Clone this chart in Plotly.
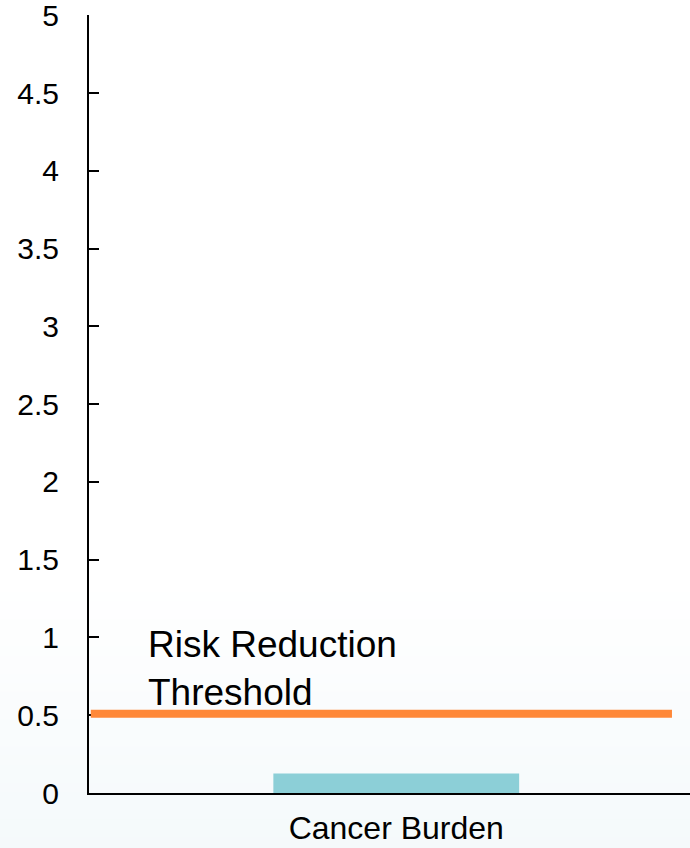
import plotly.graph_objects as go

categories = ["Cancer Burden"]
values = [0.125]
threshold_value = 0.51
threshold_label = "Risk Reduction<br>Threshold"
y_ticks = [0, 0.5, 1, 1.5, 2, 2.5, 3, 3.5, 4, 4.5, 5]
y_tick_text = ["0", "0.5", "1", "1.5", "2", "2.5", "3", "3.5", "4", "4.5", "5"]

fig = go.Figure()
fig.add_trace(go.Bar(x=categories, y=values, width=0.4,
                     marker=dict(color="#8ccfd7", line=dict(width=0))))

# background gradient bands (white -> pale blue toward the bottom)
shapes = []
n = 30
y_top, y_bot = 0.27, -0.08
c0 = (255, 255, 255)
c1 = (244, 249, 251)
for i in range(n):
    f = (i + 0.5) / n
    col = tuple(round(c0[k] + (c1[k] - c0[k]) * f) for k in range(3))
    ya = y_top - (y_top - y_bot) * i / n
    yb = y_top - (y_top - y_bot) * (i + 1) / n
    shapes.append(dict(type="rect", xref="paper", yref="paper", x0=-0.2, x1=1.1,
                       y0=yb - 0.002, y1=ya, fillcolor="rgb(%d,%d,%d)" % col,
                       line=dict(width=0), layer="below"))
shapes.append(dict(type="line", xref="paper", yref="y", x0=0.003, x1=0.97,
                   y0=threshold_value, y1=threshold_value,
                   line=dict(color="#ff8838", width=8)))
fig.update_layout(shapes=shapes)

fig.add_annotation(x=0.095, xref="paper", y=0.50, yref="y", text=threshold_label,
                   showarrow=False, xanchor="left", yanchor="bottom", align="left",
                   font=dict(family="Arial, Liberation Sans", size=37, color="#000000"))

fig.update_layout(
    width=690, height=848,
    margin=dict(l=89, r=0, t=15, b=55, autoexpand=False),
    paper_bgcolor="white", plot_bgcolor="rgba(0,0,0,0)",
    showlegend=False,
    font=dict(family="Arial, Liberation Sans", color="#000000"),
    xaxis=dict(range=[-0.5, 0.478], showgrid=False, showline=True, linecolor="#000000",
               linewidth=2, ticks="", tickfont=dict(size=32), ticklabelstandoff=6,
               zeroline=False, automargin=False),
    yaxis=dict(range=[0, 5.002], tickvals=y_ticks, ticktext=y_tick_text, showgrid=False,
               showline=True, linecolor="#000000", linewidth=2, ticks="inside",
               ticklen=10, tickwidth=2, tickcolor="#000000", tickfont=dict(size=30),
               ticklabelstandoff=22, ticklabeloverflow="allow", zeroline=False,
               automargin=False),
)

fig.write_html("out.html", config={"displayModeBar": False},
               post_script="document.body.style.margin='0';")
